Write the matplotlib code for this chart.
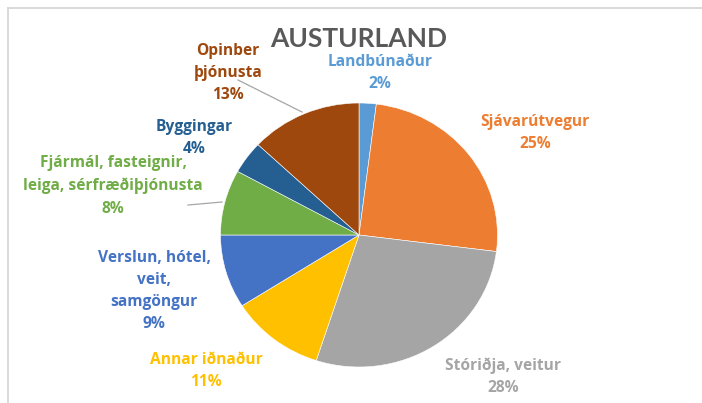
import matplotlib
matplotlib.use("Agg")
import matplotlib.pyplot as plt
from matplotlib.lines import Line2D

title = "AUSTURLAND"
categories = ["Landbúnaður", "Sjávarútvegur", "Stóriðja, veitur", "Annar iðnaður",
              "Verslun, hótel,\nveit,\nsamgöngur", "Fjármál, fasteignir,\nleiga, sérfræðiþjónusta",
              "Byggingar", "Opinber\nþjónusta"]
values = [2, 25, 28, 11, 9, 8, 4, 13]

colors = ["#5B9BD5", "#ED7D31", "#A5A5A5", "#FFC000", "#4472C4", "#70AD47", "#255E91", "#9E480E"]
# label centres in pixels (x, y from top)
label_pos = [(380, 73), (535, 133), (503, 377), (206, 371), (154, 291), (113, 186), (194, 138), (228, 73)]

W, H = 702, 403
fig = plt.figure(figsize=(W / 100, H / 100), dpi=100)
fig.patch.set_facecolor("white")

def fx(x):
    return x / W

def fy(y):
    return 1 - y / H

# pie bounding box (pixels)
cx, cy, rx, ry = 359, 235, 138.5, 132
ax = fig.add_axes([fx(cx - rx), fy(cy + ry), 2 * rx / W, 2 * ry / H])
ax.pie(values, colors=colors, startangle=90, counterclock=False, radius=1,
       wedgeprops=dict(linewidth=0.4, edgecolor="white"))
ax.set_aspect("auto")
ax.set_xlim(-1, 1)
ax.set_ylim(-1, 1)
ax.axis("off")

font = ["Open Sans", "DejaVu Sans"]
for cat, val, col, (px, py) in zip(categories, values, colors, label_pos):
    fig.text(fx(px), fy(py), f"{cat}\n{val}%", ha="center", va="center", color=col,
             fontsize=11.2, fontweight="bold", family=font, linespacing=1.52)

fig.text(fx(359), fy(39), title, ha="center", va="center", color="#595959",
         fontsize=19, fontweight="bold", family=["Lato", "DejaVu Sans"])

# leader lines
for (x0, y0), (x1, y1) in [((238, 80), (302, 112)), ((188, 205), (222, 202))]:
    fig.add_artist(Line2D([fx(x0), fx(x1)], [fy(y0), fy(y1)], color="#A6A6A6", lw=0.9))

# chart area border
fig.add_artist(Line2D([fx(8), fx(702)], [fy(7.5), fy(7.5)], color="#D9D9D9", lw=1.4))
fig.add_artist(Line2D([fx(8), fx(8)], [fy(7.5), fy(403)], color="#D9D9D9", lw=1.4))

fig.savefig("out.png", dpi=100)
